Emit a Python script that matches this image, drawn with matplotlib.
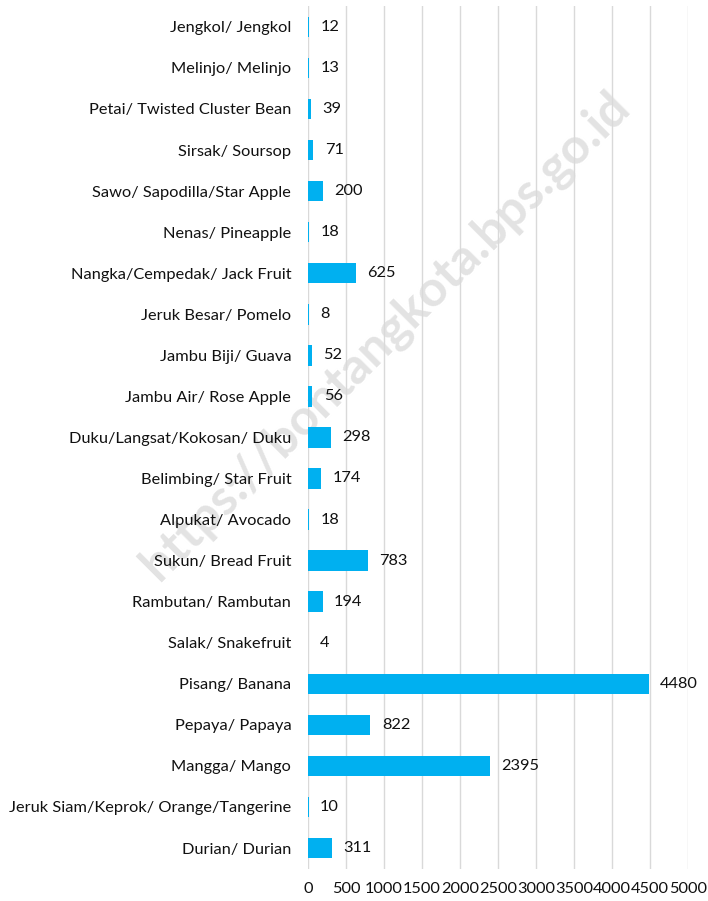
import matplotlib.pyplot as plt

# Fruit production by type (top to bottom as shown)
fruits = [
    'Jengkol/ Jengkol', 'Melinjo/ Melinjo', 'Petai/ Twisted Cluster Bean',
    'Sirsak/ Soursop', 'Sawo/ Sapodilla/Star Apple', 'Nenas/ Pineapple',
    'Nangka/Cempedak/ Jack Fruit', 'Jeruk Besar/ Pomelo', 'Jambu Biji/ Guava',
    'Jambu Air/ Rose Apple', 'Duku/Langsat/Kokosan/ Duku',
    'Belimbing/ Star Fruit', 'Alpukat/ Avocado', 'Sukun/ Bread Fruit',
    'Rambutan/ Rambutan', 'Salak/ Snakefruit', 'Pisang/ Banana',
    'Pepaya/ Papaya', 'Mangga/ Mango', 'Jeruk Siam/Keprok/ Orange/Tangerine',
    'Durian/ Durian',
]
values = [12, 13, 39, 71, 200, 18, 625, 8, 52, 56, 298, 174, 18, 783, 194,
          4, 4480, 822, 2395, 10, 311]
xticks = list(range(0, 5001, 500))

plt.rcParams['font.family'] = ['Lato', 'DejaVu Sans']

fig = plt.figure(figsize=(7.08, 9.01), dpi=100)
ax = fig.add_axes([0.435, 0.036, 0.537, 0.957])
ax.patch.set_alpha(0)

pos = range(len(fruits))
ax.barh(pos, values, height=0.5, color='#00B0F0', zorder=3)
for i, v in zip(pos, values):
    ax.text(v + 150, i, str(v), va='center', ha='left', fontsize=11.8,
            color='#111111', zorder=4)

ax.set_yticks(list(pos))
ax.set_yticklabels(fruits, fontsize=11.8, color='#111111')
ax.set_xticks(xticks)
ax.set_xticklabels([str(t) for t in xticks], fontsize=11.8, color='#111111')
ax.set_xlim(0, 5000)
ax.set_ylim(len(fruits) - 0.5, -0.5)
ax.grid(axis='x', color='#d9d9d9', linewidth=1)
for s in ax.spines.values():
    s.set_visible(False)
ax.tick_params(length=0)
ax.tick_params(axis='y', pad=12)
ax.tick_params(axis='x', pad=10)

# watermark
fig.text(0.544, 0.628, 'https://bontangkota.bps.go.id', rotation=45,
         ha='center', va='center', fontsize=36, fontweight='bold',
         color='#e3e3e3', zorder=-1)

fig.savefig('out.png', dpi=100, facecolor='white')
